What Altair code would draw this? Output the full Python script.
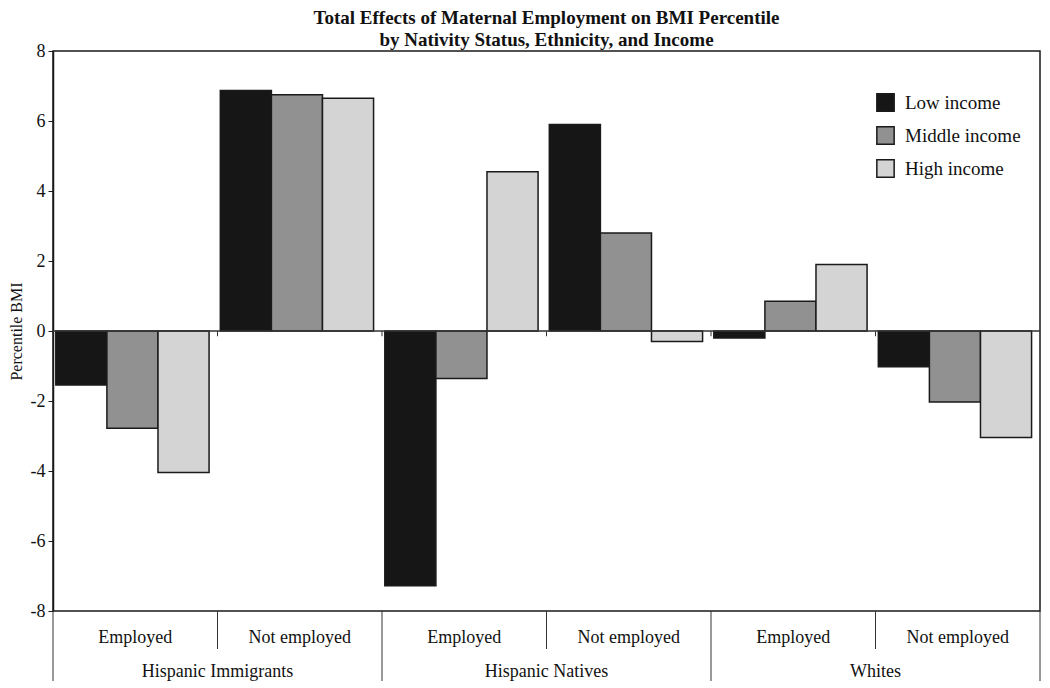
import altair as alt
import pandas as pd

groups = ["Hispanic Immigrants", "Hispanic Natives", "Whites"]
statuses = ["Employed", "Not employed"]
incomes = ["Low income", "Middle income", "High income"]

# values per (group, status) in income order Low, Middle, High
hi_employed = [-1.54, -2.78, -4.04]
hi_not_employed = [6.87, 6.75, 6.65]
hn_employed = [-7.28, -1.36, 4.55]
hn_not_employed = [5.9, 2.8, -0.3]
wh_employed = [-0.2, 0.85, 1.9]
wh_not_employed = [-1.02, -2.03, -3.04]

series = [hi_employed, hi_not_employed, hn_employed, hn_not_employed, wh_employed, wh_not_employed]

cats = []
cat_group = []
cat_status = []
for g in groups:
    for s in statuses:
        cats.append(g + "|" + s)
        cat_group.append(g)
        cat_status.append(s)

rows = []
for c, vals in zip(cats, series):
    for inc, v in zip(incomes, vals):
        rows.append({"cat": c, "income": inc, "value": v})
bars_df = pd.DataFrame(rows)

cat_df = pd.DataFrame({"cat": cats, "group": cat_group, "status": cat_status})

W, H = 987, 560
FONT = "Liberation Serif"
colors = ["#161616", "#919191", "#d4d4d4"]

xscale = alt.Scale(domain=cats, paddingInner=0, paddingOuter=0)

bars = alt.Chart(bars_df).mark_bar(stroke="#1a1a1a", strokeWidth=1.5).encode(
    x=alt.X("cat:N", scale=xscale, axis=None),
    xOffset=alt.XOffset("income:N", scale=alt.Scale(domain=incomes, paddingInner=0, paddingOuter=0.11, align=0.25)),
    y=alt.Y("value:Q", scale=alt.Scale(domain=[-8, 8], nice=False),
            axis=alt.Axis(values=[-8, -6, -4, -2, 0, 2, 4, 6, 8], labelExpr="'' + datum.value",
                          title="Percentile BMI", grid=False, domainColor="#1a1a1a", domainWidth=1.5,
                          tickColor="#1a1a1a", tickSize=5, labelFont=FONT, labelFontSize=18,
                          labelColor="#111", titleFont=FONT, titleFontSize=16, titleFontWeight="normal",
                          titleColor="#111", titlePadding=6, labelPadding=3)),
    color=alt.Color("income:N", scale=alt.Scale(domain=incomes, range=colors),
                    legend=alt.Legend(title=None)),
)

zero = alt.Chart(pd.DataFrame({"v": [0]})).mark_rule(color="#333", strokeWidth=1.5).encode(y="v:Q")

zero_ticks = alt.Chart(cat_df.iloc[1:]).mark_rule(color="#333", strokeWidth=1).encode(
    x=alt.X("cat:N", scale=xscale, axis=None, bandPosition=0),
    y=alt.datum(0), y2=alt.datum(-0.15),
)

sub_lines = alt.Chart(cat_df[cat_df.status == "Not employed"]).mark_rule(color="#333", strokeWidth=1).encode(
    x=alt.X("cat:N", scale=xscale, axis=None, bandPosition=0),
    y=alt.value(H), y2=alt.value(H + 38),
)

group_lines = alt.Chart(cat_df[cat_df.status == "Employed"]).mark_rule(color="#333", strokeWidth=1).encode(
    x=alt.X("cat:N", scale=xscale, axis=None, bandPosition=0),
    y=alt.value(H), y2=alt.value(H + 70),
)

right_line = alt.Chart(cat_df.iloc[-1:]).mark_rule(color="#333", strokeWidth=1).encode(
    x=alt.X("cat:N", scale=xscale, axis=None, bandPosition=1),
    y=alt.value(H), y2=alt.value(H + 70),
)

sub_text = alt.Chart(cat_df).mark_text(font=FONT, fontSize=18, color="#111", baseline="middle").encode(
    x=alt.X("cat:N", scale=xscale, axis=None),
    y=alt.value(H + 27),
    text="status:N",
)

group_text = alt.Chart(cat_df[cat_df.status == "Employed"]).mark_text(font=FONT, fontSize=18, color="#111", baseline="middle").encode(
    x=alt.X("cat:N", scale=xscale, axis=None, bandPosition=1),
    y=alt.value(H + 61),
    text="group:N",
)

chart = alt.layer(
    bars, zero, zero_ticks, sub_lines, group_lines, right_line, sub_text, group_text
).properties(
    width=W, height=H,
    padding={"left": 0, "top": 1, "right": 0, "bottom": 0},
    title=alt.TitleParams(
        text=["Total Effects of Maternal Employment on BMI Percentile",
              "by Nativity Status, Ethnicity, and Income"],
        font=FONT, fontSize=19, fontWeight="bold", color="#111", lineHeight=22, offset=-8,
    ),
).configure_view(
    stroke="#1a1a1a", strokeWidth=1.5
).configure_legend(
    orient="none", legendX=823, legendY=42, symbolType="square", symbolSize=300,
    symbolStrokeColor="#1a1a1a", symbolStrokeWidth=1.5, symbolOpacity=1,
    labelFont=FONT, labelFontSize=19, labelColor="#111", rowPadding=8, labelOffset=10,
)

chart.save("out.html", embed_options={"renderer": "svg", "actions": False})
